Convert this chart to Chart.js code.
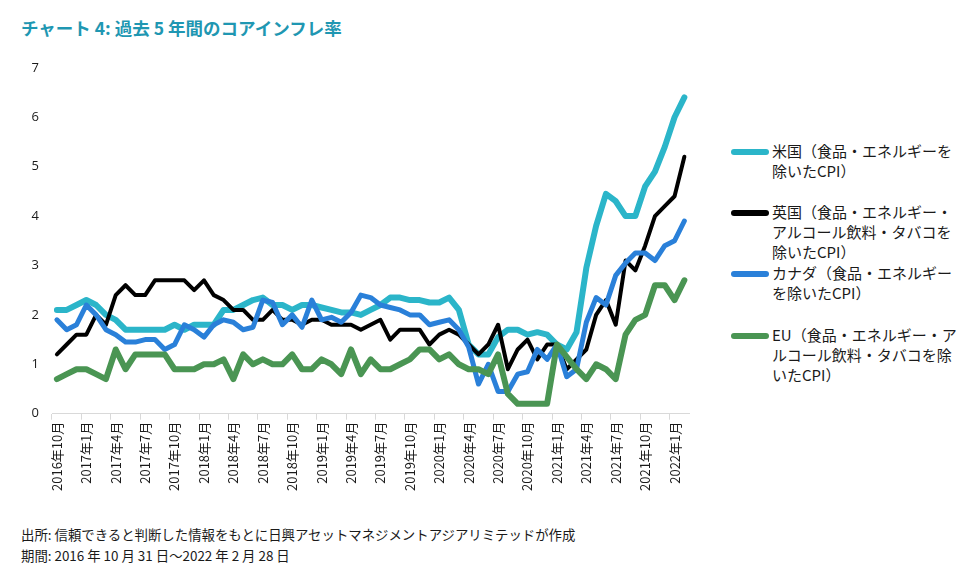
<!DOCTYPE html>
<html>
<head>
<meta charset="utf-8">
<script src="https://cdn.jsdelivr.net/npm/chart.js@4.4.1/dist/chart.umd.min.js"></script>
<style>
  body { margin: 0; background: #fff; font-family: "Noto Sans CJK JP", "Noto Sans", sans-serif; }
  #page { position: relative; width: 976px; height: 574px; overflow: hidden; }
  #title { position: absolute; left: 21px; top: 15px; font-size: 17.5px; font-weight: bold; color: #1f97b2; }
  #chartBox { position: absolute; left: 10px; top: 55px; width: 692px; height: 438px; }
  #legend { position: absolute; left: 728px; top: 0; width: 248px; }
  .item { position: absolute; left: 0; width: 240px; }
  .swatch { position: absolute; left: 3px; top: 8px; width: 38px; height: 6px; border-radius: 3px; }
  .label { position: absolute; left: 44px; width: 188px; font-size: 15px; line-height: 20px; color: #1a1a1a; }
  #source { position: absolute; left: 21px; top: 524px; font-size: 13.4px; line-height: 21px; color: #1a1a1a; }
</style>
</head>
<body>
<div id="page">
  <div id="title">チャート 4: 過去 5 年間のコアインフレ率</div>
  <div id="chartBox"><canvas id="myChart"></canvas></div>
  <div id="legend"></div>
  <div id="source">出所: 信頼できると判断した情報をもとに日興アセットマネジメントアジアリミテッドが作成<br>期間: 2016 年 10 月 31 日～2022 年 2 月 28 日</div>
</div>
<script>
// monthly labels, 2016-10 .. 2022-02
const months = []
for (let y = 2016; y <= 2022; y++) {
    for (let m = 1; m <= 12; m++) {
        if (y === 2016 && m < 10) continue
        if (y === 2022 && m > 2) break
        months.push(y + '年' + m + '月')
    }
}

const usCore = [2.1, 2.1, 2.2, 2.3, 2.2, 2.0, 1.9, 1.7, 1.7, 1.7, 1.7, 1.7, 1.8, 1.7, 1.8, 1.8,
    1.8, 2.1, 2.1, 2.2, 2.3, 2.35, 2.2, 2.2, 2.1, 2.2, 2.2, 2.15, 2.1, 2.05, 2.05, 2.0,
    2.1, 2.2, 2.35, 2.35, 2.3, 2.3, 2.25, 2.25, 2.35, 2.1, 1.4, 1.2, 1.2, 1.55, 1.7, 1.7,
    1.6, 1.65, 1.6, 1.4, 1.3, 1.65, 2.95, 3.8, 4.45, 4.3, 4.0, 4.0, 4.6, 4.9, 5.4, 6.0, 6.4]

const ukCore = [1.2, 1.4, 1.6, 1.6, 2.0, 1.8, 2.4, 2.6, 2.4, 2.4, 2.7, 2.7, 2.7, 2.7, 2.5, 2.7,
    2.4, 2.3, 2.1, 2.1, 1.9, 1.9, 2.1, 1.9, 1.9, 1.8, 1.9, 1.9, 1.8, 1.8, 1.8, 1.7,
    1.8, 1.9, 1.5, 1.7, 1.7, 1.7, 1.4, 1.6, 1.7, 1.6, 1.4, 1.2, 1.4, 1.8, 0.9, 1.3,
    1.5, 1.1, 1.4, 1.4, 0.9, 1.1, 1.3, 2.0, 2.3, 1.8, 3.1, 2.9, 3.4, 4.0, 4.2, 4.4, 5.2]

const caCore = [1.9, 1.7, 1.8, 2.2, 2.0, 1.7, 1.6, 1.45, 1.45, 1.5, 1.5, 1.3, 1.4, 1.8, 1.7, 1.55,
    1.8, 1.9, 1.85, 1.7, 1.75, 2.3, 2.25, 1.8, 2.0, 1.75, 2.3, 1.9, 1.95, 1.85, 2.05, 2.4,
    2.35, 2.2, 2.15, 2.1, 2.0, 2.0, 1.8, 1.85, 1.9, 1.7, 1.35, 0.6, 1.0, 0.45, 0.45, 0.8,
    0.85, 1.3, 1.1, 1.4, 0.75, 0.9, 1.85, 2.35, 2.2, 2.8, 3.05, 3.25, 3.25, 3.1, 3.4, 3.5, 3.9]

const euCore = [0.7, 0.8, 0.9, 0.9, 0.8, 0.7, 1.3, 0.9, 1.2, 1.2, 1.2, 1.2, 0.9, 0.9, 0.9, 1.0,
    1.0, 1.1, 0.7, 1.2, 1.0, 1.1, 1.0, 1.0, 1.2, 0.9, 0.9, 1.1, 1.0, 0.8, 1.3, 0.8,
    1.1, 0.9, 0.9, 1.0, 1.1, 1.3, 1.3, 1.1, 1.2, 1.0, 0.9, 0.9, 0.8, 1.2, 0.4, 0.2,
    0.2, 0.2, 0.2, 1.4, 1.15, 0.9, 0.7, 1.0, 0.9, 0.7, 1.6, 1.9, 2.0, 2.6, 2.6, 2.3, 2.7]

const seriesNames = [
    '米国（食品・エネルギーを除いたCPI）',
    '英国（食品・エネルギー・アルコール飲料・タバコを除いたCPI）',
    'カナダ（食品・エネルギーを除いたCPI）',
    'EU（食品・エネルギー・アルコール飲料・タバコを除いたCPI）'
]
const seriesColors = ['#2bb5c9', '#000000', '#2a80d9', '#4a9553']
const seriesWidths = [6, 4, 5, 6]
const legendTops = [141, 202, 263, 325]

const allData = [usCore, ukCore, caCore, euCore]

const ctx = document.getElementById('myChart')
const myChart = new Chart(ctx, {
    type: 'line',
    data: {
        labels: months,
        datasets: allData.map((d, i) => ({
            label: seriesNames[i],
            data: d,
            borderColor: seriesColors[i],
            backgroundColor: seriesColors[i],
            borderWidth: seriesWidths[i],
            pointRadius: 0,
            tension: 0,
            borderJoinStyle: 'round',
            borderCapStyle: 'round',
            order: 4 - i          // EU drawn on top
        }))
    },
    options: {
        responsive: true,
        maintainAspectRatio: false,
        animation: false,
        layout: { padding: { top: 2, right: 4 } },
        scales: {
            x: {
                offset: true,
                grid: {
                    offset: true,
                    drawOnChartArea: false,
                    tickLength: 6,
                    color: c => (c.index % 3 === 0 ? '#d9d9d9' : 'rgba(0,0,0,0)')
                },
                border: { color: '#d9d9d9', width: 1 },
                ticks: {
                    autoSkip: false,
                    maxRotation: 90,
                    minRotation: 90,
                    padding: 2,
                    color: '#1a1a1a',
                    font: { size: 13, family: '"Noto Sans CJK JP", sans-serif' },
                    callback: function(val, index) {
                        return index % 3 === 0 ? this.getLabelForValue(val) : ''
                    }
                }
            },
            y: {
                min: 0,
                max: 7,
                afterFit: s => { s.width = 42 },
                grid: { display: false },
                border: { display: false },
                ticks: {
                    stepSize: 1,
                    padding: 5,
                    color: '#1a1a1a',
                    font: { size: 13, family: '"Open Sans", sans-serif' }
                }
            }
        },
        plugins: {
            legend: { display: false },
            tooltip: { enabled: false }
        }
    }
})

// html legend so the long labels can wrap
const legendDiv = document.getElementById('legend')
seriesNames.forEach((name, i) => {
    const item = document.createElement('div')
    item.className = 'item'
    item.style.top = legendTops[i] + 'px'
    const sw = document.createElement('div')
    sw.className = 'swatch'
    sw.style.background = seriesColors[i]
    const lb = document.createElement('div')
    lb.className = 'label'
    lb.textContent = name
    item.appendChild(sw)
    item.appendChild(lb)
    legendDiv.appendChild(item)
})
</script>
</body>
</html>
